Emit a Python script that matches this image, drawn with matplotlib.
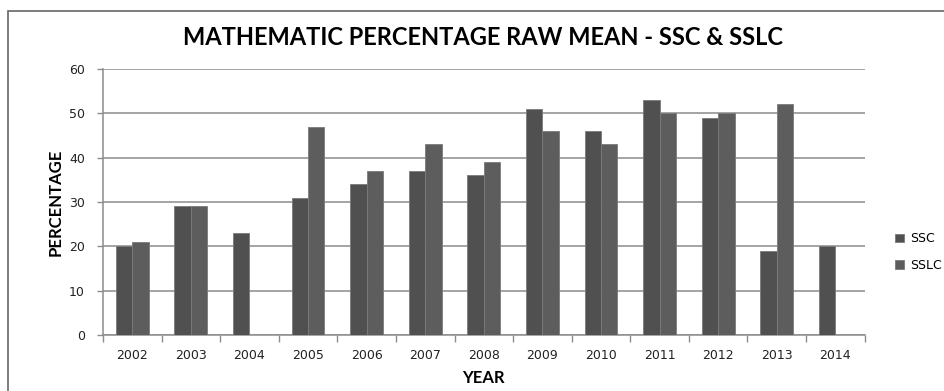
import numpy as np
import matplotlib
matplotlib.use("Agg")
import matplotlib.pyplot as plt
from matplotlib.patches import Rectangle

years = ["2002", "2003", "2004", "2005", "2006", "2007", "2008",
         "2009", "2010", "2011", "2012", "2013", "2014"]
ssc = [20, 29, 23, 31, 34, 37, 36, 51, 46, 53, 49, 19, 20]
sslc = [21, 29, np.nan, 47, 37, 43, 39, 46, 43, 50, 50, 52, np.nan]

grid_col = "#8c8c8c"

fig = plt.figure(figsize=(9.45, 3.91), dpi=100)
ax = fig.add_axes([0.109, 0.143, 0.806, 0.681])

x = np.arange(len(years))
w = 0.28
b1 = ax.bar(x - w / 2, ssc, w, color="#505050", edgecolor="#7a7a7a", linewidth=0.6, label="SSC", zorder=3)
b2 = ax.bar(x + w / 2, sslc, w, color="#5d5d5d", edgecolor="#7a7a7a", linewidth=0.6, label="SSLC", zorder=3)

ax.set_xlim(-0.5, len(years) - 0.5)
ax.set_ylim(0, 60)
ax.set_yticks(range(0, 61, 10))
ax.yaxis.grid(True, color=grid_col, linewidth=1.1, zorder=0)

# ticks between categories, labels at centres
ax.set_xticks(np.arange(-0.5, len(years), 1))
ax.set_xticklabels([])
ax.set_xticks(x, minor=True)
ax.set_xticklabels(years, minor=True, fontsize=9, color="#222222")
ax.tick_params(axis="x", which="major", length=5, color=grid_col, width=1)
ax.tick_params(axis="x", which="minor", length=0, pad=10)
ax.tick_params(axis="y", length=4, color=grid_col, width=1, labelsize=9, pad=9, labelcolor="#222222")

for s in ["top", "right"]:
    ax.spines[s].set_visible(False)
for s in ["left", "bottom"]:
    ax.spines[s].set_color(grid_col)
    ax.spines[s].set_linewidth(1.1)

ax.set_ylabel("PERCENTAGE", fontsize=12, fontweight="bold", family="Lato", labelpad=4)
ax.set_xlabel("YEAR", fontsize=12, fontweight="bold", family="Lato", labelpad=6)

fig.text(0.511, 0.903, "MATHEMATIC PERCENTAGE RAW MEAN - SSC & SSLC",
         ha="center", va="center", fontsize=17, fontweight="bold", family="Lato")

fig.legend(handles=[b1, b2], loc="center left", bbox_to_anchor=(0.935, 0.355),
           frameon=False, fontsize=9, handlelength=0.7, handleheight=0.7,
           handletextpad=0.5, labelspacing=1.1)

# outer chart border (cropped on the right and bottom)
fig.patches.append(Rectangle((0.0085, -0.1), 1.2, 1.072, transform=fig.transFigure,
                             fill=False, edgecolor="#666666", linewidth=1.2))

fig.savefig("out.png", dpi=100)
